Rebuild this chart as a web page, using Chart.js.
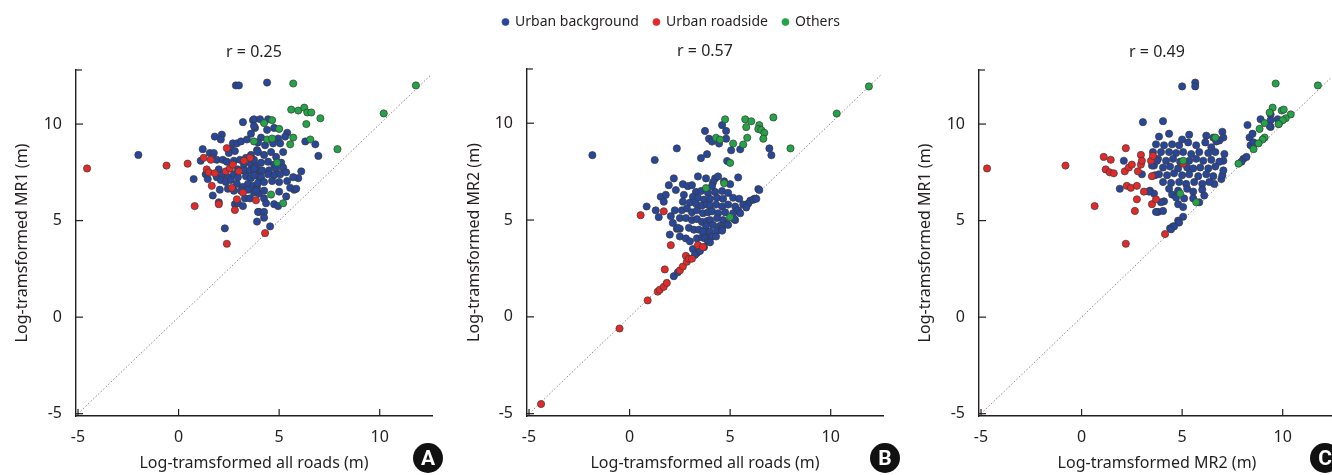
<!DOCTYPE html>
<html>
<head>
<meta charset="utf-8">
<script src="https://cdn.jsdelivr.net/npm/chart.js@4.4.0/dist/chart.umd.min.js"></script>
<style>
  html, body { margin: 0; padding: 0; background: #fff; overflow: hidden; }
  body { width: 1332px; height: 475px; position: relative; }
  canvas { position: absolute; top: 0; }
  .badge { position: absolute; top: 443px; width: 30px; height: 30px; border-radius: 50%;
           background: #111; color: #fff; font: bold 21px Roboto, sans-serif;
           text-align: center; line-height: 30px; }
</style>
</head>
<body>
<canvas id="panelA" width="450" height="475" style="left:0px;width:450px;height:475px"></canvas>
<canvas id="panelB" width="450" height="475" style="left:460px;width:450px;height:475px"></canvas>
<canvas id="panelC" width="450" height="475" style="left:902px;width:450px;height:475px"></canvas>
<div class="badge" style="left:413px">A</div>
<div class="badge" style="left:870px">B</div>
<div class="badge" style="left:1310px">C</div>
<script>
// Nomes das séries e textos
const seriesNames = ['Urban background', 'Urban roadside', 'Others'];
const seriesColors = ['#28479a', '#e32a2b', '#22a447'];
const tickValues = [-5, 0, 5, 10];
const diagonal = [-5, 12.5];

// Painel A: all roads (x) vs MR1 (y)
const aBackground = [
  [-2.0,8.4],[2.85,12.0],[3.0,12.0],[4.4,12.15],[2.3,4.6],[4.55,4.7],[3.9,4.95],[6.95,8.35],[6.8,8.95],
  [6.3,9.1],[6.1,7.55],[5.95,7.2],[5.75,6.6],[0.75,7.15],[1.2,8.7],[1.1,8.1],[2.05,6.6],[1.7,6.3],
  [3.2,10.1],[3.7,10.2],[3.8,9.8],[3.6,9.5],[1.8,9.35],[2.15,9.45],[2.1,9.2],[2.7,9.0],[2.9,9.0],
  [3.1,9.1],[3.4,9.2],[2.6,8.7],[2.5,8.5],[2.8,8.6],[1.55,8.5],[1.75,8.5],[1.7,8.25],[1.9,8.15],
  [2.2,8.15],[2.4,8.05],[2.75,8.1],[3.05,8.15],[3.35,8.25],[3.6,8.4],[3.9,8.65],[3.25,7.9],[3.6,7.95],
  [3.85,7.85],[2.95,7.65],[3.25,7.6],[3.55,7.6],[3.8,7.5],[4.05,7.6],[2.0,7.65],[2.2,7.4],[1.9,7.25],
  [2.45,7.25],[2.75,7.4],[2.95,7.25],[3.35,7.3],[3.6,7.2],[3.95,7.3],[1.35,7.4],[1.45,7.15],[2.1,7.1],
  [2.35,7.0],[2.6,7.1],[2.9,6.9],[3.2,6.75],[3.45,6.9],[3.7,6.8],[3.9,6.7],[2.45,6.65],[2.75,6.55],
  [3.1,6.55],[3.45,6.6],[3.75,6.45],[4.0,6.4],[3.3,6.15],[3.55,6.15],[2.8,5.85],[2.95,5.9],[3.2,5.75],
  [4.0,5.45],[2.0,5.95],[3.75,10.25],[4.05,10.25],[4.45,10.25],[4.75,9.8],[3.75,9.9],[4.4,9.7],
  [5.4,9.55],[5.3,9.35],[4.1,9.3],[4.95,9.25],[3.95,9.05],[4.3,8.9],[4.7,9.0],[5.05,9.0],[3.95,8.55],
  [4.25,8.4],[4.6,8.55],[4.85,8.3],[5.2,8.55],[3.75,8.15],[4.1,8.0],[4.45,8.05],[4.75,7.9],[5.1,8.0],
  [3.75,7.7],[4.15,7.6],[4.5,7.6],[4.85,7.7],[5.2,7.75],[3.75,7.35],[4.1,7.25],[4.45,7.4],[4.75,7.35],
  [5.05,7.4],[5.35,7.5],[5.7,7.25],[3.95,6.95],[4.25,7.0],[4.65,7.05],[5.0,7.0],[5.4,7.05],[3.85,6.55],
  [4.25,6.55],[5.0,6.5],[5.55,6.7],[5.85,6.65],[5.35,6.25],[4.25,6.15],[4.35,5.9],[4.75,5.85],
  [4.95,5.75],[3.95,5.45],[4.25,5.45],[4.25,5.15]
];
const aRoadside = [
  [-4.55,7.7],[-0.6,7.85],[0.45,7.95],[0.8,5.75],[2.0,5.85],[2.4,3.8],[2.8,5.55],[2.9,6.1],[3.85,6.05],
  [4.3,4.35],[1.25,8.25],[1.6,8.15],[1.4,7.65],[1.5,7.5],[1.8,7.45],[1.65,6.8],[2.4,8.75],[2.35,7.55],
  [2.55,7.7],[2.7,7.9],[2.65,6.7],[3.0,7.55],[3.2,6.45],[3.55,8.25],[3.25,8.1]
];
const aOthers = [
  [5.7,12.1],[11.8,12.0],[10.2,10.55],[5.6,10.75],[5.95,10.7],[6.25,10.85],[6.4,10.6],[6.6,10.6],
  [7.05,10.3],[6.35,10.0],[5.0,9.75],[5.7,9.3],[6.55,9.2],[5.55,8.95],[7.9,8.7],[4.25,10.05],[4.65,10.2],
  [3.75,9.1],[4.4,9.2],[4.65,9.25],[4.9,8.0],[4.6,6.35],[5.2,5.9]
];

// Painel B: all roads (x) vs MR2 (y)
const bBackground = [
  [-1.85,8.35],[1.25,8.1],[2.35,8.7],[3.75,9.6],[3.95,9.2],[4.1,9.05],[4.6,9.9],[4.8,9.6],[4.8,9.2],
  [4.45,8.95],[5.05,8.6],[5.5,8.65],[6.95,8.7],[7.05,8.35],[3.85,8.4],[3.55,8.2],[4.85,8.05],[5.4,7.2],
  [6.4,6.6],[6.2,6.1],[6.0,6.0],[5.8,5.8],[0.85,5.7],[1.3,5.5],[1.45,5.15],[2.05,5.2],[2.25,5.5],
  [2.0,4.25],[2.35,4.55],[2.5,4.55],[1.95,6.8],[2.3,6.55],[2.2,7.15],[2.65,6.85],[1.55,6.2],[1.8,6.3],
  [3.4,7.25],[3.8,7.15],[4.25,7.15],[4.15,6.95],[4.7,7.0],[5.0,6.85],[2.5,4.15],[2.8,4.05],[3.0,3.9],
  [2.2,2.1],[2.4,2.3],[2.9,6.75],[3.1,6.8],[3.3,6.45],[3.55,6.5],[3.9,6.4],[2.7,6.3],[3.15,6.2],
  [3.4,6.15],[3.7,6.05],[1.7,5.95],[2.65,5.95],[3.0,5.9],[3.3,5.85],[3.6,5.75],[3.85,5.8],[2.6,5.5],
  [2.85,5.6],[3.1,5.4],[3.35,5.5],[3.65,5.35],[3.9,5.4],[2.5,5.1],[2.8,5.1],[3.1,5.0],[3.35,5.05],
  [3.6,4.9],[3.85,4.95],[2.15,4.85],[2.4,4.6],[2.95,4.6],[3.2,4.5],[3.45,4.5],[3.75,4.45],[3.35,4.05],
  [3.6,4.1],[3.85,4.2],[3.15,3.5],[3.35,3.3],[4.4,7.25],[4.1,6.75],[4.25,6.45],[4.6,6.5],[4.9,6.4],
  [4.0,6.1],[4.35,6.15],[4.65,6.1],[5.15,6.15],[5.45,6.1],[5.9,5.85],[6.15,6.05],[5.65,5.8],[4.0,5.75],
  [4.3,5.8],[4.6,5.7],[4.9,5.8],[5.25,5.7],[4.1,5.45],[4.4,5.35],[4.75,5.4],[5.15,5.35],[5.4,5.5],
  [4.0,5.0],[4.35,5.1],[4.65,5.0],[5.25,5.0],[3.8,4.7],[4.15,4.75],[4.5,4.7],[4.85,4.8],[3.65,4.4],
  [4.0,4.4],[4.35,4.45],[4.6,4.55],[3.75,4.05],[4.1,4.15],[3.9,3.9],[3.25,3.2],[3.5,3.4],[3.7,3.6],
  [4.0,3.85],[4.3,4.15],[4.6,4.45],[4.9,4.75],[5.2,5.05],[5.5,5.35],[5.8,5.65],[6.3,6.1],[6.45,6.55]
];
const bRoadside = [
  [-4.4,-4.5],[-0.5,-0.6],[0.9,0.85],[0.55,5.25],[1.7,5.45],[2.05,3.7],[1.75,2.45],[1.4,1.3],[1.5,1.4],
  [1.7,1.55],[1.85,1.75],[2.5,2.4],[2.65,2.6],[2.8,3.15],[2.85,2.85],[2.95,3.0],[3.1,3.0],[3.4,3.7],
  [3.65,3.6]
];
const bOthers = [
  [11.9,11.9],[10.3,10.5],[8.0,8.7],[7.15,10.3],[4.75,10.2],[5.75,10.2],[6.05,10.1],[6.45,9.9],
  [5.8,9.8],[6.4,9.7],[6.55,9.65],[6.7,9.5],[6.65,9.2],[5.85,9.25],[4.3,9.25],[4.5,9.15],[5.15,8.95],
  [5.65,8.9],[5.0,7.95],[4.7,6.9],[3.8,6.65],[5.0,5.15]
];

// Painel C: MR2 (x) vs MR1 (y)
const cBackground = [
  [5.0,11.95],[5.65,12.15],[5.65,11.95],[3.05,10.1],[4.05,10.15],[8.25,9.95],[8.9,10.25],[9.4,10.2],
  [9.4,9.85],[9.75,10.25],[8.35,9.3],[8.5,9.5],[8.55,8.95],[8.05,8.2],[8.2,8.3],[7.95,8.05],[1.9,6.65],
  [2.1,8.1],[4.5,6.35],[5.05,5.2],[4.8,5.0],[4.55,4.7],[4.4,4.6],[3.8,5.45],[4.05,5.5],[4.1,6.0],
  [3.95,5.95],[3.4,6.55],[3.6,6.4],[5.85,5.95],[6.1,6.3],[6.6,6.9],[6.95,7.15],[7.0,7.35],[7.05,7.6],
  [7.05,8.1],[7.1,8.45],[7.0,9.6],[7.05,9.3],[6.85,9.15],[6.55,9.3],[6.2,9.4],[4.35,9.5],[3.85,9.35],
  [5.0,9.2],[5.35,9.45],[6.7,9.1],[3.7,8.95],[4.1,8.9],[4.5,8.95],[4.85,8.9],[5.3,9.05],[5.7,8.9],
  [6.15,9.05],[6.45,8.8],[3.55,8.55],[3.95,8.55],[4.35,8.55],[4.7,8.5],[5.05,8.55],[5.45,8.45],
  [5.85,8.55],[6.3,8.5],[6.65,8.55],[3.8,8.2],[4.2,8.1],[4.55,8.2],[4.9,8.05],[5.35,8.1],[5.7,8.2],
  [6.05,8.1],[6.45,8.15],[6.85,8.05],[3.6,7.85],[4.05,7.75],[4.4,7.8],[4.8,7.7],[5.25,7.75],[5.55,7.7],
  [5.9,7.75],[6.3,7.7],[6.65,7.8],[3.85,7.4],[4.25,7.35],[4.6,7.45],[5.0,7.35],[5.35,7.4],[5.8,7.3],
  [6.2,7.4],[6.55,7.3],[4.05,7.0],[4.45,6.95],[4.85,7.0],[5.2,6.9],[5.6,7.0],[6.0,6.9],[6.35,7.0],
  [4.35,6.65],[4.8,6.55],[5.25,6.65],[5.55,6.5],[6.0,6.6],[4.7,6.2],[5.1,6.15],[5.55,6.15],[4.8,5.85],
  [5.05,5.7],[3.7,5.45],[4.85,4.9],[4.6,4.7],[4.45,4.55],[8.4,8.9],[8.55,9.05],[9.35,9.9],[9.8,10.0],
  [9.4,10.5],[3.0,7.4],[3.35,6.5],[3.75,8.1],[3.5,7.85],[3.65,7.35]
];
const cRoadside = [
  [-4.7,7.7],[-0.8,7.85],[0.65,5.75],[2.2,3.8],[4.15,4.3],[2.65,5.5],[2.75,6.1],[3.5,5.85],[3.7,6.1],
  [3.1,6.5],[2.25,6.8],[2.45,6.7],[2.75,6.8],[1.1,8.3],[1.45,8.15],[2.2,8.75],[1.2,7.65],[1.4,7.5],
  [1.6,7.45],[2.15,7.55],[2.35,7.75],[2.5,7.9],[2.8,7.55],[2.95,7.9],[2.95,8.4],[3.0,8.1],[3.45,8.1],
  [3.55,8.35],[3.5,7.3],[5.05,7.95]
];
const cOthers = [
  [9.65,12.1],[11.75,12.0],[9.5,10.85],[9.35,10.6],[9.95,10.7],[10.05,10.75],[10.4,10.5],[10.15,10.3],
  [10.0,10.2],[9.8,10.0],[9.1,10.05],[8.85,9.75],[9.1,9.3],[9.0,9.2],[8.8,9.0],[8.55,8.7],[7.8,7.95],
  [6.65,9.3],[5.05,8.1],[5.7,5.95],[4.9,6.4]
];

const fonte = '"Noto Sans", sans-serif';
const corTexto = '#231f20';

// Marcas de escala voltadas para dentro, como no original
const ticksInternos = {
  id: 'ticksInternos',
  afterDraw(chart) {
    const { ctx, chartArea, scales } = chart;
    ctx.save();
    ctx.strokeStyle = corTexto;
    ctx.lineWidth = 1.2;
    tickValues.forEach(v => {
      const px = scales.x.getPixelForValue(v);
      ctx.beginPath();
      ctx.moveTo(px, chartArea.bottom);
      ctx.lineTo(px, chartArea.bottom - 7);
      ctx.stroke();
      const py = scales.y.getPixelForValue(v);
      ctx.beginPath();
      ctx.moveTo(chartArea.left, py);
      ctx.lineTo(chartArea.left + 7, py);
      ctx.stroke();
    });
    ctx.beginPath();
    ctx.moveTo(chartArea.left, chartArea.top);
    ctx.lineTo(chartArea.left + 6, chartArea.top);
    ctx.stroke();
    ctx.restore();
  }
};

function pontos(lista) {
  return lista.map(p => ({ x: p[0], y: p[1] }));
}

function criarPainel(id, cfg) {
  const series = [cfg.others, cfg.roadside, cfg.background];
  const cores = [seriesColors[2], seriesColors[1], seriesColors[0]];
  const nomes = [seriesNames[2], seriesNames[1], seriesNames[0]];
  const datasets = series.map((s, i) => ({
    label: nomes[i],
    data: pontos(s),
    backgroundColor: cores[i],
    borderColor: '#3a3a3a',
    borderWidth: 0.7,
    pointRadius: 3.6,
  }));
  datasets.push({
    label: 'y = x',
    data: diagonal.map(v => ({ x: v, y: v })),
    showLine: true,
    borderColor: '#8a8a8a',
    borderWidth: 1,
    borderDash: [1.5, 2],
    pointRadius: 0,
  });

  return new Chart(document.getElementById(id).getContext('2d'), {
    type: 'scatter',
    data: { datasets },
    plugins: [ticksInternos],
    options: {
      responsive: false,
      animation: false,
      layout: { padding: { top: cfg.padTop, right: cfg.padRight, left: 0, bottom: 0 } },
      scales: {
        x: {
          type: 'linear', min: -5.1, max: 12.6,
          afterBuildTicks: s => { s.ticks = tickValues.map(v => ({ value: v })); },
          afterFit: s => { s.height = 59; },
          grid: { display: false, drawTicks: false },
          border: { display: true, color: corTexto, width: 1.4 },
          ticks: { padding: 12, color: corTexto, font: { family: fonte, size: 16 } },
          title: {
            display: true, text: cfg.xTitle, color: corTexto,
            font: { family: fonte, size: 16 }, padding: { top: 0, bottom: 2 }
          }
        },
        topo: {
          type: 'linear', position: 'top', min: -5.1, max: 12.6,
          afterFit: s => { s.height = 30; },
          grid: { display: false, drawTicks: false },
          border: { display: false },
          ticks: { display: false },
          title: {
            display: true, text: cfg.head, color: corTexto,
            font: { family: fonte, size: 16 }, padding: { top: 3, bottom: 0 }
          }
        },
        y: {
          type: 'linear', min: -5.12, max: 12.8,
          afterBuildTicks: s => { s.ticks = tickValues.map(v => ({ value: v })); },
          afterFit: s => { s.width = cfg.yWidth; },
          grid: { display: false, drawTicks: false },
          border: { display: true, color: corTexto, width: 1.4 },
          ticks: { padding: 14, color: corTexto, font: { family: fonte, size: 16 } },
          title: {
            display: true, text: cfg.yTitle, color: corTexto,
            font: { family: fonte, size: 16 }, padding: { top: cfg.yTitlePad, bottom: 0 }
          }
        }
      },
      plugins: {
        legend: {
          display: cfg.legenda,
          labels: {
            usePointStyle: true, boxWidth: 5, boxHeight: 5, padding: 15,
            color: corTexto, font: { family: fonte, size: 14 },
            filter: item => item.datasetIndex < 3,
            sort: (a, b) => b.datasetIndex - a.datasetIndex,
            generateLabels: chart => Chart.defaults.plugins.legend.labels.generateLabels(chart)
              .map(l => Object.assign(l, { strokeStyle: l.fillStyle }))
          }
        },
        tooltip: { enabled: false }
      }
    }
  });
}

const graficoA = criarPainel('panelA', {
  background: aBackground, roadside: aRoadside, others: aOthers,
  head: 'r = 0.25', xTitle: 'Log-tramsformed all roads (m)', yTitle: 'Log-tramsformed MR1 (m)',
  padTop: 40, padRight: 18, yWidth: 76, yTitlePad: 13, legenda: false
});
const graficoB = criarPainel('panelB', {
  background: bBackground, roadside: bRoadside, others: bOthers,
  head: 'r = 0.57', xTitle: 'Log-tramsformed all roads (m)', yTitle: 'Log-tramsformed MR2 (m)',
  padTop: 0, padRight: 27, yWidth: 67, yTitlePad: 5, legenda: true
});
const graficoC = criarPainel('panelC', {
  background: cBackground, roadside: cRoadside, others: cOthers,
  head: 'r = 0.49', xTitle: 'Log-tramsformed MR2 (m)', yTitle: 'Log-tramsformed MR1 (m)',
  padTop: 40, padRight: 17, yWidth: 77, yTitlePad: 14, legenda: false
});
</script>
</body>
</html>
